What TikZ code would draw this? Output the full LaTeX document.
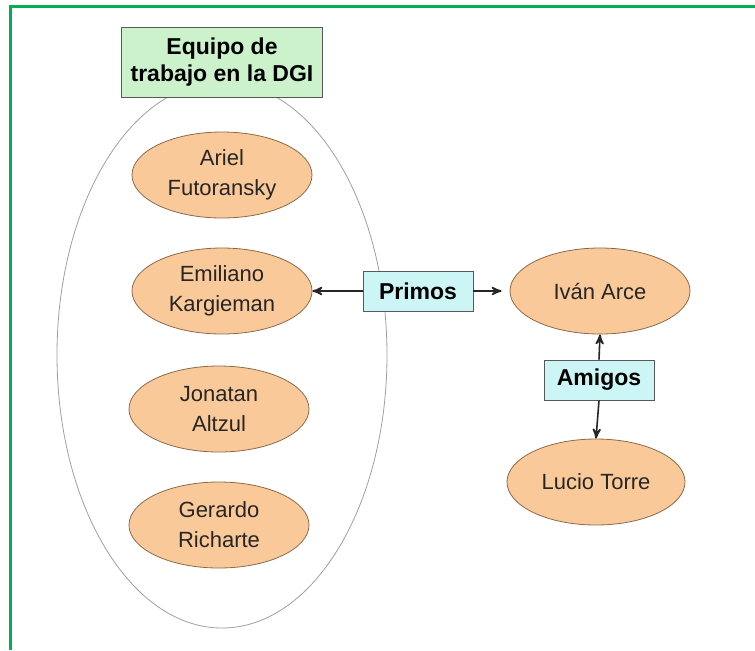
\documentclass[tikz,border=0pt]{standalone}
\usepackage{fontspec}
\setmainfont{Liberation Sans}
\usetikzlibrary{arrows}
\usetikzlibrary{shapes.geometric}
\usepackage{xcolor}
\definecolor{marco}{HTML}{00B050}
\definecolor{naranja}{HTML}{FAC99A}
\definecolor{bordenar}{HTML}{8A6A4A}
\definecolor{verdecaja}{HTML}{CCF2CC}
\definecolor{celeste}{HTML}{CCF6F6}

\begin{document}
\begin{tikzpicture}[x=.5pt,y=-.5pt,
  nombre/.style={ellipse, draw=bordenar, fill=naranja, inner sep=0pt,
    minimum width=90pt, minimum height=43pt, align=center,
    font=\fontsize{11}{15}\selectfont, text=black!85},
  rotulo/.style={draw=gray!70!black, inner sep=0pt, align=center,
    font=\fontsize{11.5}{13.5}\selectfont\bfseries},
  flecha/.style={black!85, thick, ->, >=stealth'}]
\useasboundingbox (0,0) rectangle (755,650);
\draw[marco, line width=1.5pt] (10,650)--(10,6)--(755,6);
% grupo de la DGI
\node[ellipse, draw=gray!75, minimum width=165pt, minimum height=273pt] (grupo) at (222,355) {};
\node[rotulo, fill=verdecaja, minimum width=100.5pt, minimum height=35pt] (dgi) at (222,62) {Equipo de\\trabajo en la DGI};
\node[nombre] (ariel) at (222,175) {Ariel\\Futoransky};
\node[nombre] (emiliano) at (222,291) {Emiliano\\Kargieman};
\node[nombre] (jonatan) at (219,409) {Jonatan\\Altzul};
\node[nombre] (gerardo) at (219,525) {Gerardo\\Richarte};
% parientes y amigos
\node[nombre] (ivan) at (600,291) {Iván Arce};
\node[nombre, minimum width=89pt] (lucio) at (596,482) {Lucio Torre};
\node[rotulo, fill=celeste, minimum width=55pt, minimum height=20pt] (primos) at (418,291) {Primos};
\node[rotulo, fill=celeste, minimum width=55pt, minimum height=20pt] (amigos) at (599,380) {Amigos};
\draw[flecha] (primos.west) -- (emiliano.east);
\draw[flecha, shorten >=4pt] (primos.east) -- (ivan.west);
\draw[flecha] (amigos.north) -- (ivan.south);
\draw[flecha] (amigos.south) -- (lucio.north);
\end{tikzpicture}
\end{document}
